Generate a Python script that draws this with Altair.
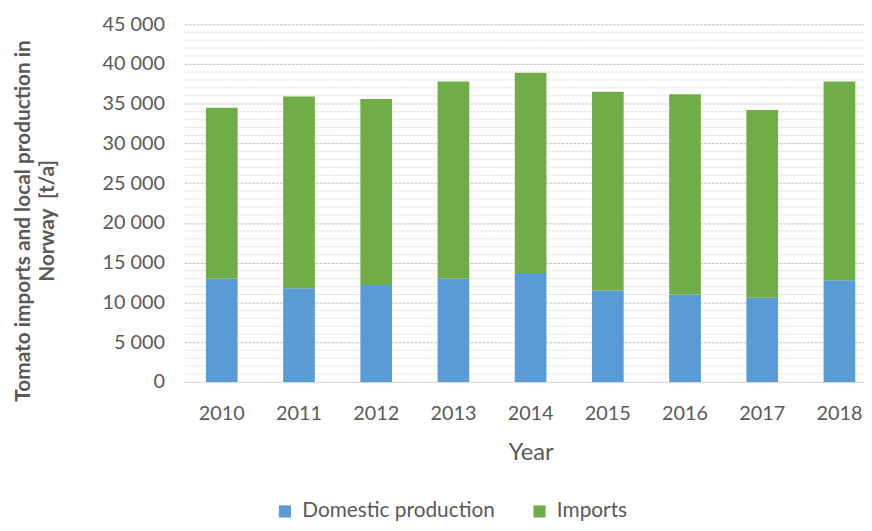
import altair as alt
import pandas as pd

years = ["2010", "2011", "2012", "2013", "2014", "2015", "2016", "2017", "2018"]
domestic = [13000, 11800, 12200, 13000, 13700, 11500, 11000, 10600, 12800]
imports = [21500, 24100, 23400, 24800, 25200, 25000, 25200, 23600, 25000]
series = ["Domestic production", "Imports"]
colors = ["#5B9BD5", "#70AD47"]
major_ticks = list(range(0, 45001, 5000))
minor_ticks = [v for v in range(1000, 45000, 1000) if v % 5000]

rows = []
for i, yr in enumerate(years):
    rows.append({"Year": yr, "Series": series[0], "Value": domestic[i], "order": 0})
    rows.append({"Year": yr, "Series": series[1], "Value": imports[i], "order": 1})
df = pd.DataFrame(rows)
grid_df = pd.DataFrame({"Value": minor_ticks})

FONT = "Lato"
TXT = "#595959"

yscale = alt.Scale(domain=[0, 45000], nice=False, zero=True)
yaxis = alt.Axis(
    values=major_ticks, grid=True, gridColor="#c4c4c4", gridDash=[3, 1], gridWidth=1,
    domain=False, ticks=False, labelFont=FONT, labelFontSize=20, labelColor=TXT,
    labelPadding=20, labelExpr="replace(format(datum.value, ','), ',', ' ')",
    title=["Tomato imports and local production in", "Norway\u00a0\u00a0[t/a]"],
    titleFont=FONT, titleFontSize=21, titleFontWeight="bold", titleColor=TXT,
    titleX=-173, titleY=198, titleAngle=270, titleBaseline="top", titleAlign="center",
    titleLineHeight=24,
)

minor = alt.Chart(grid_df).mark_rule(color="#e2e2e2", strokeWidth=1, strokeDash=[3, 1]).encode(
    y=alt.Y("Value:Q", scale=yscale, axis=yaxis)
)

bars = alt.Chart(df).mark_bar().encode(
    x=alt.X(
        "Year:N",
        sort=years,
        scale=alt.Scale(paddingInner=0.59, paddingOuter=0.28, range=[0, 699]),
        axis=alt.Axis(
            labelAngle=0, ticks=False, domain=True, domainColor="#d9d9d9", domainWidth=1,
            grid=False, labelFont=FONT, labelFontSize=20, labelColor=TXT, labelPadding=22,
            title="Year", titleFont=FONT, titleFontSize=24, titleColor=TXT,
            titleFontWeight="normal", titleY=59, titleBaseline="top",
        ),
    ),
    y=alt.Y("Value:Q", stack="zero", scale=yscale, axis=yaxis),
    color=alt.Color(
        "Series:N",
        scale=alt.Scale(domain=series, range=colors),
        legend=alt.Legend(
            orient="none", legendX=91, legendY=481, direction="horizontal", title=None,
            symbolType="square", symbolSize=150, symbolStrokeWidth=0, labelLimit=400,
            labelFont=FONT, labelFontSize=21, labelColor=TXT, columnPadding=34, labelOffset=7,
        ),
    ),
    order=alt.Order("order:Q"),
)

chart = alt.layer(minor, bars).properties(
    width=686,
    height=361,
    autosize=alt.AutoSizeParams(type="none"),
    padding={"left": 178, "top": 14, "right": 0, "bottom": 140},
).configure_view(stroke=None)

chart.save("out.html", embed_options={"renderer": "svg", "actions": False})
